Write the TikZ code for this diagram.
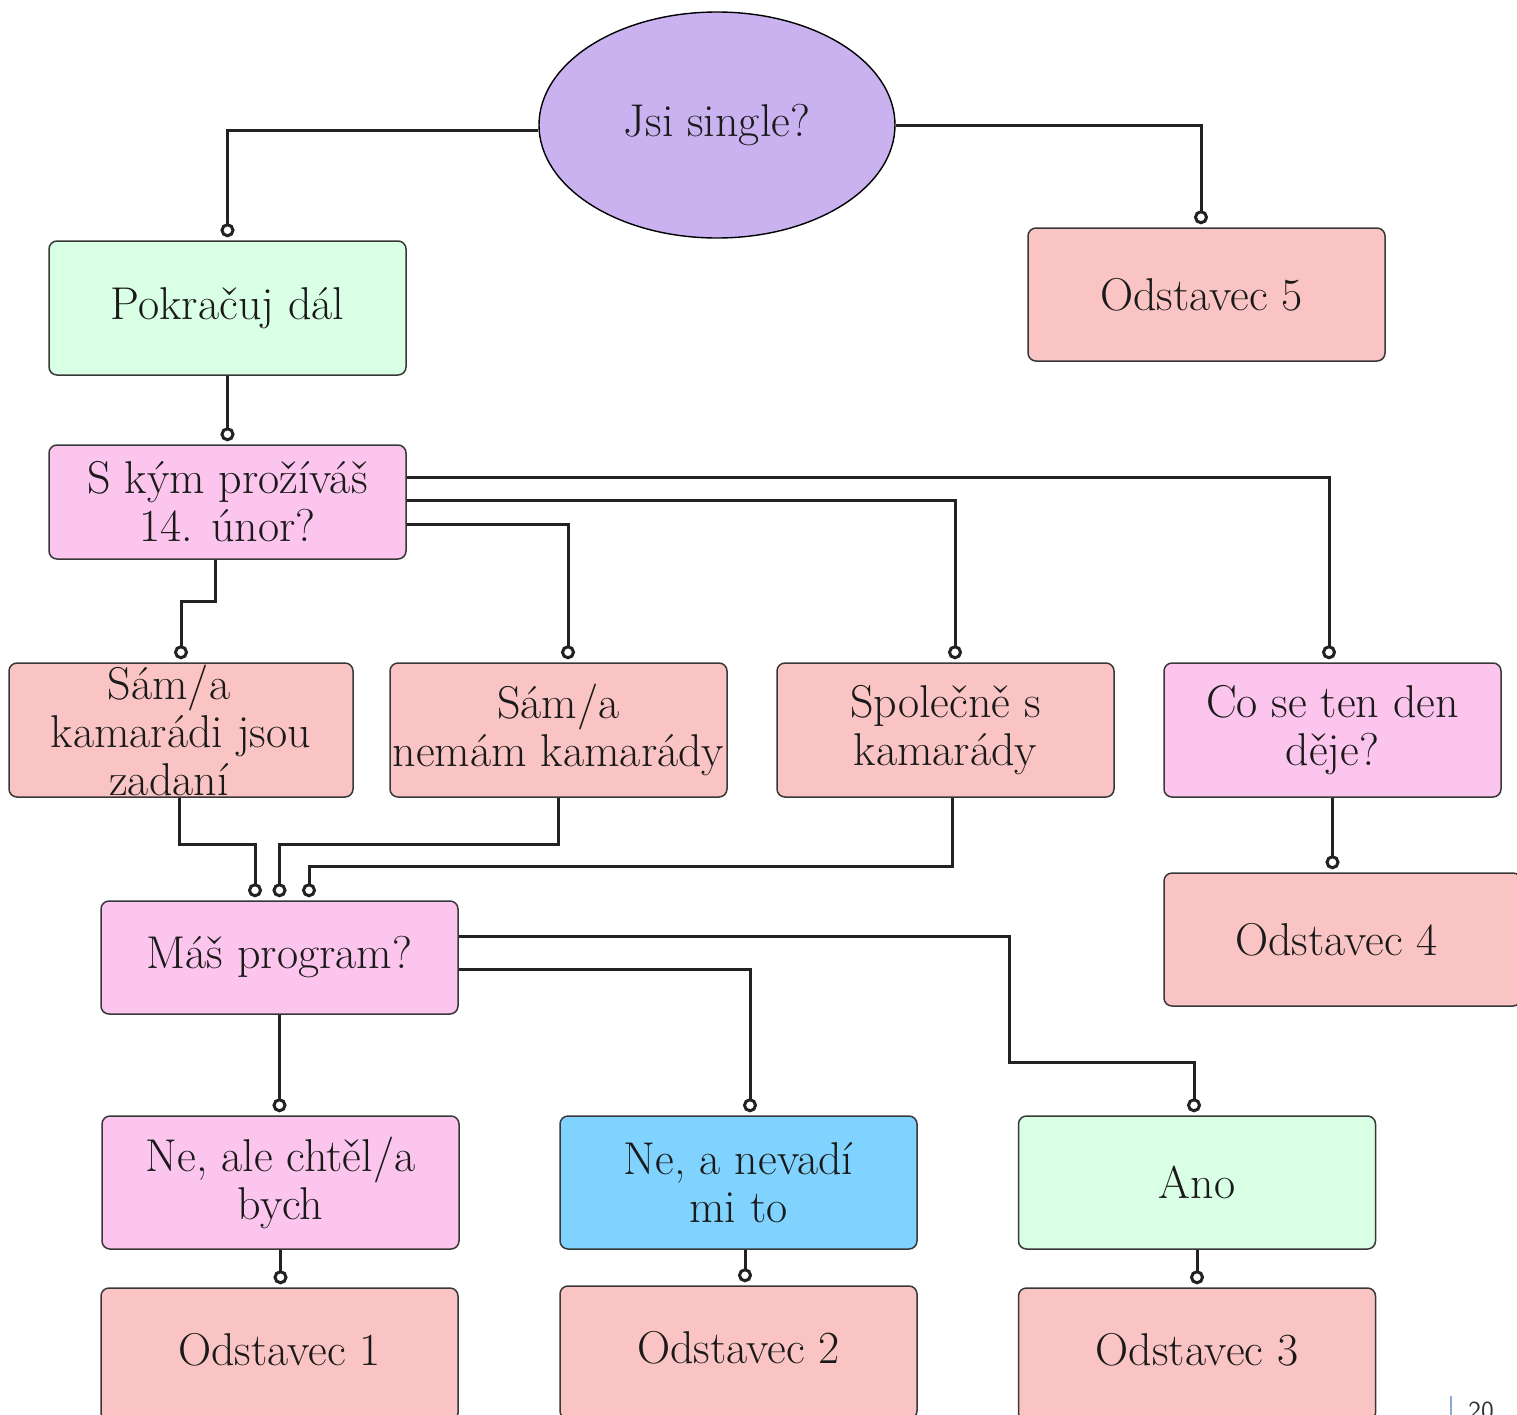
\documentclass[tikz,border=0pt]{standalone}
\usepackage{fontspec}
\usetikzlibrary{shapes.geometric,arrows.meta}
\definecolor{lav}{RGB}{202,178,240}
\definecolor{mint}{RGB}{217,255,228}
\definecolor{salmon}{RGB}{251,196,196}
\definecolor{pinkq}{RGB}{252,197,238}
\definecolor{skyb}{RGB}{128,211,255}
\definecolor{ink}{RGB}{34,34,34}
\definecolor{txt}{RGB}{26,26,26}
\definecolor{pgbar}{RGB}{143,168,216}
\begin{document}
\begin{tikzpicture}[x=0.5pt,y=-0.5pt,
  box/.style={draw=ink!90,line width=0.75pt,rounded corners=4pt,minimum width=178.5pt,minimum height=67pt,align=center,inner sep=0pt,text=txt,font=\fontsize{23}{24}\selectfont},
  conn/.style={draw=ink,line width=1.5pt,-{Circle[open,length=7pt,width=7pt]},shorten >=1.5pt}]
\useasboundingbox (0,0) rectangle (1517,1415);
\clip (0,0) rectangle (1517,1415);
% nodes
\node[ellipse,draw=black,line width=0.7pt,fill=lav,minimum width=178pt,minimum height=113pt,inner sep=0pt,text=txt,font=\fontsize{23}{24}\selectfont] (ell) at (717,125) {Jsi single?};
\node[box,fill=mint] (pok) at (227.5,308) {Pokračuj dál};
\node[box,fill=salmon,minimum height=66.5pt] (od5) at (1206.5,294.5) {\hspace*{-5pt}Odstavec 5};
\node[box,fill=pinkq,minimum height=57pt] (skym) at (227.5,502) {S kým prožíváš\\14. únor?};
\node[box,fill=salmon,minimum width=172pt] (s1) at (181,730) {Sám/a\hspace*{12pt}\\kamarádi jsou\hspace*{12pt}\\zadaní\hspace*{12pt}};
\node[box,fill=salmon,minimum width=168.5pt] (s2) at (558.5,730) {Sám/a\\nemám kamarády};
\node[box,fill=salmon,minimum width=168.5pt] (s3) at (945.5,730) {Společně s\\kamarády};
\node[box,fill=pinkq,minimum width=168.5pt] (s4) at (1332.5,730) {Co se ten den\\děje?};
\node[box,fill=salmon,minimum height=66.5pt] (od4) at (1342.5,939.5) {\hspace*{-6pt}Odstavec 4};
\node[box,fill=pinkq,minimum height=56.5pt] (mas) at (279.5,957.5) {Máš program?};
\node[box,fill=pinkq,minimum height=66.5pt] (ne1) at (280.5,1182.5) {Ne, ale chtěl/a\\bych};
\node[box,fill=skyb,minimum height=66.5pt] (ne2) at (738.5,1182.5) {Ne, a nevadí\\mi to};
\node[box,fill=mint,minimum height=66.5pt] (ano) at (1197,1182.5) {Ano};
\node[box,fill=salmon,minimum height=66.5pt] (od1) at (279.5,1354.5) {\raisebox{5pt}{Odstavec 1}};
\node[box,fill=salmon,minimum height=66.5pt] (od2) at (738.5,1352.5) {\raisebox{5pt}{Odstavec 2}};
\node[box,fill=salmon,minimum height=66.5pt] (od3) at (1197,1354.5) {\raisebox{5pt}{Odstavec 3}};
% connectors
\draw[conn] ([yshift=-2.5pt]ell.west) -| (pok.north);
\draw[conn] (ell.east) -| ([xshift=-2.75pt]od5.north);
\draw[conn] (pok.south) -- (skym.north);
\draw[conn] ([yshift=12.5pt]skym.east) -| ([xshift=-1.75pt]s4.north);
\draw[conn] ([yshift=1pt]skym.east) -| ([xshift=4.75pt]s3.north);
\draw[conn] ([yshift=-11pt]skym.east) -| ([xshift=4.75pt]s2.north);
\draw[conn] ([xshift=-6.25pt]skym.south) -- ++(0,42) -| (s1.north);
\draw[conn] ([xshift=-1pt]s1.south) -- ++(0,47) -| ([xshift=-12.25pt]mas.north);
\draw[conn] (s2.south) -- ++(0,47) -| (mas.north);
\draw[conn] ([xshift=3.25pt]s3.south) -- ++(0,69) -| ([xshift=14.75pt]mas.north);
\draw[conn] (s4.south) -- (s4.south |- od4.north);
\draw[conn] ([yshift=10.75pt]mas.east) -- ++(551,0) -- ++(0,126) -| ([xshift=-1.5pt]ano.north);
\draw[conn] ([yshift=-5.75pt]mas.east) -| ([xshift=5.75pt]ne2.north);
\draw[conn] (mas.south) -- (mas.south |- ne1.north);
\draw[conn] (ne1.south) -- (ne1.south |- od1.north);
\draw[conn] ([xshift=3.25pt]ne2.south) -- ([xshift=3.25pt]ne2.south |- od2.north);
\draw[conn] (ano.south) -- (ano.south |- od3.north);
% page number
\draw[pgbar,line width=0.6pt] (1451,1396) -- (1451,1415);
\node[anchor=north west,inner sep=0pt,text=black!80,font=\sffamily\fontsize{13}{13}\selectfont] (pg) at (1468,1402) {20};
\end{tikzpicture}
\end{document}
